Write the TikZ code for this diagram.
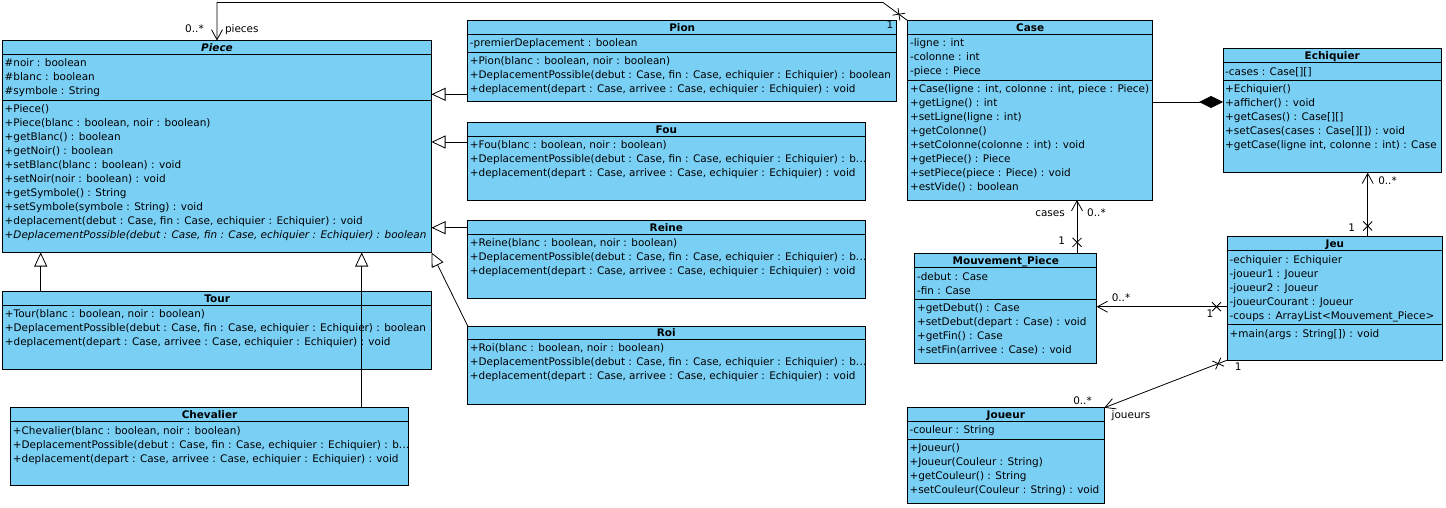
\documentclass[tikz,border=0pt]{standalone}
\usepackage{fontspec}
\setmainfont{DejaVu Sans}
\usetikzlibrary{arrows.meta,decorations.markings,calc}
\definecolor{umlblue}{RGB}{122,207,245}
\newcommand\umlfont{\fontsize{10.45pt}{12pt}\selectfont}
\newcommand\trunc{b.\kern0.3pt.\kern0.3pt.}
\newcommand\umlcls[6]{%
  \node[cls, minimum width=#4pt, minimum height=#5pt] (#1) at (#2,#3) {};
  \node[ttl] (#1T) at ($(#1.north)+(0,10.8)$) {#6};}
\newcommand\umlsep[3]{\draw[sepl] (#1,#2) -- ++(#3,0);}
\newcommand\umlmem[4]{\foreach \mtext [count=\mi] in {#4} {\node[mem] (#1\mi) at (#2,{#3+3.8+14*(\mi-1)}) {\mtext};}}
\tikzset{
  cls/.style={rectangle, draw=black, fill=umlblue, line width=0.8pt, inner sep=0pt, outer sep=0pt, anchor=north west},
  ttl/.style={font=\umlfont\bfseries, anchor=base, inner sep=0pt},
  mem/.style={font=\umlfont, anchor=base west, inner sep=0pt},
  lbl/.style={font=\umlfont, inner sep=0pt},
  sepl/.style={line width=0.8pt},
  gen/.style={line width=0.8pt, -{Triangle[length=14pt,width=13pt,fill=white,line width=0.8pt]}},
  assoc/.style={line width=0.8pt, -{Straight Barb[length=10pt,width=11pt,line width=0.8pt]}},
  comp/.style={line width=0.8pt, -{Diamond[length=24pt,width=12pt]}},
  xmark/.style={postaction={decorate, decoration={markings, mark=at position #1 with {\draw[-, line width=0.8pt] (-4.5,-4.5) -- (4.5,4.5) (-4.5,4.5) -- (4.5,-4.5);}}}}
}
\begin{document}
\begin{tikzpicture}[x=1pt,y=-1pt]
\useasboundingbox (0,0) rectangle (1446,507);
\fill[white] (0,0) rectangle (1446,507);

% Piece
\umlcls{piece}{2.5}{40.5}{429}{212}{\itshape Piece}
\umlsep{2.5}{54.3}{429}
\umlsep{2.5}{100.3}{429}
\umlmem{pieceA}{4.5}{63}{{\#noir : boolean},{\#blanc : boolean},{\#symbole : String}}
\umlmem{pieceM}{4.5}{108.5}{{+Piece()},{+Piece(blanc : boolean, noir : boolean)},{+getBlanc() : boolean},{+getNoir() : boolean},{+setBlanc(blanc : boolean) : void},{+setNoir(noir : boolean) : void},{+getSymbole() : String},{+setSymbole(symbole : String) : void},{+deplacement(debut : Case, fin : Case, echiquier : Echiquier) : void},{\itshape +DeplacementPossible(debut : Case, fin : Case, echiquier : Echiquier) : boolean}}

% Pion
\umlcls{pion}{467.7}{20.7}{429}{81}{Pion}
\umlsep{467.7}{34.3}{429}
\umlsep{467.7}{52.3}{429}
\umlmem{pionA}{469.7}{43}{{-premierDeplacement : boolean}}
\umlmem{pionM}{469.7}{61}{{+Pion(blanc : boolean, noir : boolean)},{+DeplacementPossible(debut : Case, fin : Case, echiquier : Echiquier) : boolean},{+deplacement(depart : Case, arrivee : Case, echiquier : Echiquier) : void}}

% Fou
\umlcls{fou}{467.7}{122.7}{397.3}{78}{Fou}
\umlsep{467.7}{136.3}{397.3}
\umlmem{fouM}{469.7}{145}{{+Fou(blanc : boolean, noir : boolean)},{+DeplacementPossible(debut : Case, fin : Case, echiquier : Echiquier) : \trunc},{+deplacement(depart : Case, arrivee : Case, echiquier : Echiquier) : void}}

% Reine
\umlcls{reine}{467.7}{220.7}{397.3}{77.6}{Reine}
\umlsep{467.7}{234.3}{397.3}
\umlmem{reineM}{469.7}{243}{{+Reine(blanc : boolean, noir : boolean)},{+DeplacementPossible(debut : Case, fin : Case, echiquier : Echiquier) : \trunc},{+deplacement(depart : Case, arrivee : Case, echiquier : Echiquier) : void}}

% Roi
\umlcls{roi}{467.7}{326}{397.3}{78}{Roi}
\umlsep{467.7}{339.5}{397.3}
\umlmem{roiM}{469.7}{348}{{+Roi(blanc : boolean, noir : boolean)},{+DeplacementPossible(debut : Case, fin : Case, echiquier : Echiquier) : \trunc},{+deplacement(depart : Case, arrivee : Case, echiquier : Echiquier) : void}}

% Tour
\umlcls{tour}{2.7}{291.7}{429}{77.3}{Tour}
\umlsep{2.7}{305.3}{429}
\umlmem{tourM}{4.7}{313.5}{{+Tour(blanc : boolean, noir : boolean)},{+DeplacementPossible(debut : Case, fin : Case, echiquier : Echiquier) : boolean},{+deplacement(depart : Case, arrivee : Case, echiquier : Echiquier) : void}}

% Chevalier
\umlcls{chevalier}{10.7}{407.3}{397.6}{77.7}{Chevalier}
\umlsep{10.7}{421.7}{397.6}
\umlmem{chevalierM}{12.7}{430.7}{{+Chevalier(blanc : boolean, noir : boolean)},{+DeplacementPossible(debut : Case, fin : Case, echiquier : Echiquier) : \trunc},{+deplacement(depart : Case, arrivee : Case, echiquier : Echiquier) : void}}

% Case
\umlcls{case}{907.8}{20.7}{244.9}{179.3}{Case}
\umlsep{907.8}{34.3}{244.9}
\umlsep{907.8}{80.3}{244.9}
\umlmem{caseA}{909.8}{43}{{-ligne : int},{-colonne : int},{-piece : Piece}}
\umlmem{caseM}{909.8}{89}{{+Case(ligne : int, colonne : int, piece : Piece)},{+getLigne() : int},{+setLigne(ligne : int)},{+getColonne()},{+setColonne(colonne : int) : void},{+getPiece() : Piece},{+setPiece(piece : Piece) : void},{+estVide() : boolean}}

% Echiquier
\umlcls{echiquier}{1223}{48.7}{218.5}{124}{Echiquier}
\umlsep{1223}{62}{218.5}
\umlsep{1223}{80.3}{218.5}
\umlmem{echiquierA}{1225}{71.3}{{-cases : Case[][]}}
\umlmem{echiquierM}{1225}{89}{{+Echiquier()},{+afficher() : void},{+getCases() : Case[][]},{+setCases(cases : Case[][]) : void},{+getCase(ligne int, colonne : int) : Case}}

% Jeu
\umlcls{jeu}{1227.5}{236.7}{214.8}{123.3}{Jeu}
\umlsep{1227.5}{250.3}{214.8}
\umlsep{1227.5}{324}{214.8}
\umlmem{jeuA}{1229.5}{259.3}{{-echiquier : Echiquier},{-joueur1 : Joueur},{-joueur2 : Joueur},{-joueurCourant : Joueur},{-coups : ArrayList<Mouvement\_Piece>}}
\umlmem{jeuM}{1229.5}{333.3}{{+main(args : String[]) : void}}

% Mouvement_Piece
\umlcls{mouv}{914.8}{253.3}{181.9}{110}{Mouvement\_Piece}
\umlsep{914.8}{267.3}{181.9}
\umlsep{914.8}{299}{181.9}
\umlmem{mouvA}{916.8}{276.3}{{-debut : Case},{-fin : Case}}
\umlmem{mouvM}{916.8}{308}{{+getDebut() : Case},{+setDebut(depart : Case) : void},{+getFin() : Case},{+setFin(arrivee : Case) : void}}

% Joueur
\umlcls{joueur}{907.3}{407.7}{197}{95.6}{Joueur}
\umlsep{907.3}{421}{197}
\umlsep{907.3}{439.3}{197}
\umlmem{joueurA}{909.3}{430}{{-couleur : String}}
\umlmem{joueurM}{909.3}{447.7}{{+Joueur()},{+Joueur(Couleur : String)},{+getCouleur() : String},{+setCouleur(Couleur : String) : void}}

% generalizations
\draw[gen] (pion.west |- 0,94.3) -- (piece.east |- 0,94.3);
\draw[gen] (fou.west |- 0,142) -- (piece.east |- 0,142);
\draw[gen] (reine.west |- 0,227.7) -- (piece.east |- 0,227.7);
\draw[gen] (roi.north west) -- (piece.south east);
\draw[gen] (tour.north -| 40.7,0) -- (piece.south -| 40.7,0);
\draw[gen] (chevalier.north -| 361.7,0) -- (piece.south -| 361.7,0);

% associations
\draw[assoc, xmark=11pt] (case.north west) -- (883,2.5) -- (piece.north |- 0,2.5) -- (piece.north);
\draw[comp] (case.east |- 0,102) -- (echiquier.west |- 0,102);
\draw[assoc, xmark=10.7pt] (jeu.north -| 1367.7,0) -- (echiquier.south -| 1367.7,0);
\draw[assoc, xmark=11pt] (mouv.north -| 1077,0) -- (case.south -| 1077,0);
\draw[assoc, xmark=11pt] (jeu.west |- 0,306.7) -- (mouv.east |- 0,306.7);
\draw[assoc, xmark=10pt] (jeu.south west) -- (joueur.north east);

% labels
\node[lbl, anchor=base] (l1) at (194.5,32.1) {0..*};
\node[lbl, anchor=base] (l2) at (241.8,32.1) {pieces};
\node[lbl, anchor=base] (l3) at (890,28.8) {1};
\node[lbl, anchor=base] (l4) at (1387.5,184.5) {0..*};
\node[lbl, anchor=base] (l5) at (1351.7,231.8) {1};
\node[lbl, anchor=base east] (l6) at (1065,216.5) {cases};
\node[lbl, anchor=base west] (l7) at (1087,216.5) {0..*};
\node[lbl, anchor=base] (l8) at (1061.7,244.8) {1};
\node[lbl, anchor=base] (l9) at (1121,301.8) {0..*};
\node[lbl, anchor=base] (l10) at (1210,317.8) {1};
\node[lbl, anchor=base] (l11) at (1082.5,404.8) {0..*};
\node[lbl, anchor=base] (l12) at (1131,418.8) {joueurs};
\node[lbl, anchor=base] (l13) at (1238.3,370.5) {1};
\end{tikzpicture}
\end{document}
